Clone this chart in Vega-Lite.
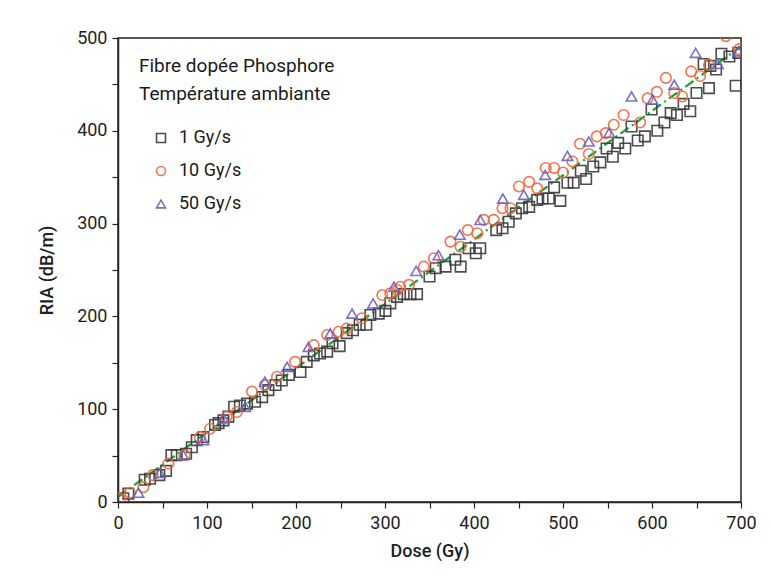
{
  "$schema": "https://vega.github.io/schema/vega-lite/v6.json",
  "width": 623,
  "height": 464,
  "autosize": {"type": "none"},
  "padding": {"left": 118, "top": 38, "right": 30, "bottom": 83},
  "background": "white",
  "config": {
    "font": "Roboto",
    "view": {"stroke": "#222", "strokeWidth": 1.5},
    "axis": {
      "grid": false,
      "domainColor": "#222",
      "domainWidth": 1.5,
      "tickColor": "#222",
      "tickWidth": 1.2,
      "tickSize": 6,
      "labelFont": "Roboto",
      "labelFontSize": 18,
      "labelFontWeight": 400,
      "labelColor": "#1e1e1e",
      "titleFont": "Roboto",
      "titleFontSize": 18,
      "titleFontWeight": 500,
      "titleColor": "#1e1e1e"
    }
  },
  "data": {
    "values": [
      {"dose": 6, "ria": 4, "rate": "1 Gy/s"},
      {"dose": 11.6, "ria": 9, "rate": "1 Gy/s"},
      {"dose": 30, "ria": 24, "rate": "1 Gy/s"},
      {"dose": 36, "ria": 25, "rate": "1 Gy/s"},
      {"dose": 46.5, "ria": 29, "rate": "1 Gy/s"},
      {"dose": 54, "ria": 33.5, "rate": "1 Gy/s"},
      {"dose": 60, "ria": 50.5, "rate": "1 Gy/s"},
      {"dose": 66, "ria": 50.5, "rate": "1 Gy/s"},
      {"dose": 76.5, "ria": 52, "rate": "1 Gy/s"},
      {"dose": 83, "ria": 59, "rate": "1 Gy/s"},
      {"dose": 88.5, "ria": 66.7, "rate": "1 Gy/s"},
      {"dose": 96, "ria": 70, "rate": "1 Gy/s"},
      {"dose": 109, "ria": 83, "rate": "1 Gy/s"},
      {"dose": 113, "ria": 85, "rate": "1 Gy/s"},
      {"dose": 118.5, "ria": 88, "rate": "1 Gy/s"},
      {"dose": 124, "ria": 92, "rate": "1 Gy/s"},
      {"dose": 130.5, "ria": 102.6, "rate": "1 Gy/s"},
      {"dose": 137, "ria": 104, "rate": "1 Gy/s"},
      {"dose": 145, "ria": 106, "rate": "1 Gy/s"},
      {"dose": 154, "ria": 108, "rate": "1 Gy/s"},
      {"dose": 162, "ria": 113, "rate": "1 Gy/s"},
      {"dose": 169, "ria": 120.6, "rate": "1 Gy/s"},
      {"dose": 177, "ria": 126, "rate": "1 Gy/s"},
      {"dose": 184, "ria": 131, "rate": "1 Gy/s"},
      {"dose": 192, "ria": 137, "rate": "1 Gy/s"},
      {"dose": 205, "ria": 140, "rate": "1 Gy/s"},
      {"dose": 212, "ria": 151, "rate": "1 Gy/s"},
      {"dose": 220, "ria": 158, "rate": "1 Gy/s"},
      {"dose": 227, "ria": 160, "rate": "1 Gy/s"},
      {"dose": 235, "ria": 162, "rate": "1 Gy/s"},
      {"dose": 241, "ria": 171, "rate": "1 Gy/s"},
      {"dose": 249, "ria": 168, "rate": "1 Gy/s"},
      {"dose": 257, "ria": 182, "rate": "1 Gy/s"},
      {"dose": 264, "ria": 185, "rate": "1 Gy/s"},
      {"dose": 271.5, "ria": 191, "rate": "1 Gy/s"},
      {"dose": 279, "ria": 191, "rate": "1 Gy/s"},
      {"dose": 283.6, "ria": 201.5, "rate": "1 Gy/s"},
      {"dose": 293, "ria": 203, "rate": "1 Gy/s"},
      {"dose": 300.5, "ria": 206, "rate": "1 Gy/s"},
      {"dose": 306, "ria": 214, "rate": "1 Gy/s"},
      {"dose": 313.6, "ria": 221, "rate": "1 Gy/s"},
      {"dose": 321, "ria": 224, "rate": "1 Gy/s"},
      {"dose": 328.6, "ria": 224, "rate": "1 Gy/s"},
      {"dose": 336, "ria": 224, "rate": "1 Gy/s"},
      {"dose": 350, "ria": 243, "rate": "1 Gy/s"},
      {"dose": 357, "ria": 252, "rate": "1 Gy/s"},
      {"dose": 368, "ria": 253.6, "rate": "1 Gy/s"},
      {"dose": 379, "ria": 261, "rate": "1 Gy/s"},
      {"dose": 385, "ria": 253.6, "rate": "1 Gy/s"},
      {"dose": 394, "ria": 273.5, "rate": "1 Gy/s"},
      {"dose": 402, "ria": 268, "rate": "1 Gy/s"},
      {"dose": 407, "ria": 273.5, "rate": "1 Gy/s"},
      {"dose": 425, "ria": 293, "rate": "1 Gy/s"},
      {"dose": 432, "ria": 295, "rate": "1 Gy/s"},
      {"dose": 439, "ria": 302, "rate": "1 Gy/s"},
      {"dose": 447, "ria": 311, "rate": "1 Gy/s"},
      {"dose": 454, "ria": 316.6, "rate": "1 Gy/s"},
      {"dose": 462, "ria": 318, "rate": "1 Gy/s"},
      {"dose": 471, "ria": 325.6, "rate": "1 Gy/s"},
      {"dose": 477, "ria": 327, "rate": "1 Gy/s"},
      {"dose": 484, "ria": 327, "rate": "1 Gy/s"},
      {"dose": 490, "ria": 339, "rate": "1 Gy/s"},
      {"dose": 497, "ria": 324.5, "rate": "1 Gy/s"},
      {"dose": 505, "ria": 344, "rate": "1 Gy/s"},
      {"dose": 512, "ria": 344, "rate": "1 Gy/s"},
      {"dose": 520, "ria": 357, "rate": "1 Gy/s"},
      {"dose": 526, "ria": 348, "rate": "1 Gy/s"},
      {"dose": 534, "ria": 361.5, "rate": "1 Gy/s"},
      {"dose": 542, "ria": 366, "rate": "1 Gy/s"},
      {"dose": 549, "ria": 381, "rate": "1 Gy/s"},
      {"dose": 556, "ria": 372, "rate": "1 Gy/s"},
      {"dose": 562, "ria": 387, "rate": "1 Gy/s"},
      {"dose": 570, "ria": 381, "rate": "1 Gy/s"},
      {"dose": 577, "ria": 404.6, "rate": "1 Gy/s"},
      {"dose": 584, "ria": 389.5, "rate": "1 Gy/s"},
      {"dose": 592, "ria": 394, "rate": "1 Gy/s"},
      {"dose": 599.5, "ria": 423, "rate": "1 Gy/s"},
      {"dose": 606, "ria": 400, "rate": "1 Gy/s"},
      {"dose": 614, "ria": 409, "rate": "1 Gy/s"},
      {"dose": 621, "ria": 419, "rate": "1 Gy/s"},
      {"dose": 628, "ria": 417, "rate": "1 Gy/s"},
      {"dose": 635.5, "ria": 429, "rate": "1 Gy/s"},
      {"dose": 643, "ria": 421, "rate": "1 Gy/s"},
      {"dose": 650, "ria": 440.7, "rate": "1 Gy/s"},
      {"dose": 658, "ria": 472, "rate": "1 Gy/s"},
      {"dose": 664, "ria": 446, "rate": "1 Gy/s"},
      {"dose": 665.6, "ria": 470, "rate": "1 Gy/s"},
      {"dose": 672, "ria": 466, "rate": "1 Gy/s"},
      {"dose": 678, "ria": 483, "rate": "1 Gy/s"},
      {"dose": 687, "ria": 480, "rate": "1 Gy/s"},
      {"dose": 694, "ria": 448.5, "rate": "1 Gy/s"},
      {"dose": 697, "ria": 484, "rate": "1 Gy/s"},

      {"dose": 2, "ria": 4, "rate": "10 Gy/s"},
      {"dose": 13.5, "ria": 10, "rate": "10 Gy/s"},
      {"dose": 28.5, "ria": 16, "rate": "10 Gy/s"},
      {"dose": 39, "ria": 29, "rate": "10 Gy/s"},
      {"dose": 56.6, "ria": 41.5, "rate": "10 Gy/s"},
      {"dose": 75, "ria": 50.5, "rate": "10 Gy/s"},
      {"dose": 92, "ria": 70, "rate": "10 Gy/s"},
      {"dose": 103.5, "ria": 79, "rate": "10 Gy/s"},
      {"dose": 122, "ria": 92, "rate": "10 Gy/s"},
      {"dose": 133.6, "ria": 97, "rate": "10 Gy/s"},
      {"dose": 150.5, "ria": 119, "rate": "10 Gy/s"},
      {"dose": 165, "ria": 126, "rate": "10 Gy/s"},
      {"dose": 178.6, "ria": 135, "rate": "10 Gy/s"},
      {"dose": 199, "ria": 151, "rate": "10 Gy/s"},
      {"dose": 220, "ria": 169, "rate": "10 Gy/s"},
      {"dose": 235, "ria": 180, "rate": "10 Gy/s"},
      {"dose": 248, "ria": 183.5, "rate": "10 Gy/s"},
      {"dose": 257, "ria": 187, "rate": "10 Gy/s"},
      {"dose": 274, "ria": 198, "rate": "10 Gy/s"},
      {"dose": 297, "ria": 223, "rate": "10 Gy/s"},
      {"dose": 306, "ria": 225, "rate": "10 Gy/s"},
      {"dose": 313.6, "ria": 228.5, "rate": "10 Gy/s"},
      {"dose": 317, "ria": 232, "rate": "10 Gy/s"},
      {"dose": 327, "ria": 234, "rate": "10 Gy/s"},
      {"dose": 343.6, "ria": 253.6, "rate": "10 Gy/s"},
      {"dose": 355, "ria": 262.7, "rate": "10 Gy/s"},
      {"dose": 373.6, "ria": 280.6, "rate": "10 Gy/s"},
      {"dose": 385, "ria": 275, "rate": "10 Gy/s"},
      {"dose": 393, "ria": 293, "rate": "10 Gy/s"},
      {"dose": 403.6, "ria": 289.6, "rate": "10 Gy/s"},
      {"dose": 411, "ria": 304, "rate": "10 Gy/s"},
      {"dose": 422, "ria": 304, "rate": "10 Gy/s"},
      {"dose": 432, "ria": 316.6, "rate": "10 Gy/s"},
      {"dose": 441, "ria": 316.6, "rate": "10 Gy/s"},
      {"dose": 450.5, "ria": 340, "rate": "10 Gy/s"},
      {"dose": 462, "ria": 345, "rate": "10 Gy/s"},
      {"dose": 471, "ria": 338, "rate": "10 Gy/s"},
      {"dose": 480.5, "ria": 360, "rate": "10 Gy/s"},
      {"dose": 490, "ria": 360, "rate": "10 Gy/s"},
      {"dose": 500, "ria": 355, "rate": "10 Gy/s"},
      {"dose": 510.6, "ria": 367, "rate": "10 Gy/s"},
      {"dose": 519, "ria": 386, "rate": "10 Gy/s"},
      {"dose": 529, "ria": 375, "rate": "10 Gy/s"},
      {"dose": 538, "ria": 394, "rate": "10 Gy/s"},
      {"dose": 548, "ria": 397.5, "rate": "10 Gy/s"},
      {"dose": 557, "ria": 406.5, "rate": "10 Gy/s"},
      {"dose": 568, "ria": 417, "rate": "10 Gy/s"},
      {"dose": 586.6, "ria": 409, "rate": "10 Gy/s"},
      {"dose": 595, "ria": 435, "rate": "10 Gy/s"},
      {"dose": 605.5, "ria": 442, "rate": "10 Gy/s"},
      {"dose": 615.6, "ria": 457, "rate": "10 Gy/s"},
      {"dose": 625, "ria": 440.7, "rate": "10 Gy/s"},
      {"dose": 634, "ria": 437, "rate": "10 Gy/s"},
      {"dose": 644, "ria": 464, "rate": "10 Gy/s"},
      {"dose": 654, "ria": 459, "rate": "10 Gy/s"},
      {"dose": 664, "ria": 471, "rate": "10 Gy/s"},
      {"dose": 683, "ria": 502, "rate": "10 Gy/s"},
      {"dose": 698, "ria": 488, "rate": "10 Gy/s"},

      {"dose": 23, "ria": 10, "rate": "50 Gy/s"},
      {"dose": 47, "ria": 31.4, "rate": "50 Gy/s"},
      {"dose": 73.5, "ria": 50.5, "rate": "50 Gy/s"},
      {"dose": 96, "ria": 66.7, "rate": "50 Gy/s"},
      {"dose": 118.5, "ria": 90, "rate": "50 Gy/s"},
      {"dose": 143, "ria": 102.6, "rate": "50 Gy/s"},
      {"dose": 165, "ria": 129.6, "rate": "50 Gy/s"},
      {"dose": 190, "ria": 145.7, "rate": "50 Gy/s"},
      {"dose": 214, "ria": 167, "rate": "50 Gy/s"},
      {"dose": 238.6, "ria": 181.8, "rate": "50 Gy/s"},
      {"dose": 263, "ria": 203, "rate": "50 Gy/s"},
      {"dose": 286.6, "ria": 214, "rate": "50 Gy/s"},
      {"dose": 310, "ria": 232, "rate": "50 Gy/s"},
      {"dose": 335, "ria": 249, "rate": "50 Gy/s"},
      {"dose": 360, "ria": 266, "rate": "50 Gy/s"},
      {"dose": 384, "ria": 288, "rate": "50 Gy/s"},
      {"dose": 407, "ria": 304, "rate": "50 Gy/s"},
      {"dose": 432.5, "ria": 327, "rate": "50 Gy/s"},
      {"dose": 456, "ria": 331, "rate": "50 Gy/s"},
      {"dose": 480, "ria": 352.5, "rate": "50 Gy/s"},
      {"dose": 505, "ria": 373, "rate": "50 Gy/s"},
      {"dose": 529, "ria": 388.5, "rate": "50 Gy/s"},
      {"dose": 552, "ria": 398, "rate": "50 Gy/s"},
      {"dose": 577, "ria": 437, "rate": "50 Gy/s"},
      {"dose": 600.6, "ria": 433.5, "rate": "50 Gy/s"},
      {"dose": 625, "ria": 449.6, "rate": "50 Gy/s"},
      {"dose": 649, "ria": 484, "rate": "50 Gy/s"},
      {"dose": 674, "ria": 472, "rate": "50 Gy/s"},
      {"dose": 697, "ria": 485.6, "rate": "50 Gy/s"}
    ]
  },
  "encoding": {
    "x": {
      "field": "dose", "type": "quantitative",
      "scale": {"domain": [0, 700], "nice": false, "zero": false},
      "axis": {
        "title": "Dose (Gy)",
        "values": [0, 50, 100, 150, 200, 250, 300, 350, 400, 450, 500, 550, 600, 650, 700],
        "labelExpr": "datum.value % 100 === 0 ? datum.label : ''",
        "labelPadding": 6,
        "titlePadding": 10,
        "labelFlush": false
      }
    },
    "y": {
      "field": "ria", "type": "quantitative",
      "scale": {"domain": [0, 500], "nice": false, "zero": false},
      "axis": {
        "title": "RIA (dB/m)",
        "values": [0, 50, 100, 150, 200, 250, 300, 350, 400, 450, 500],
        "labelExpr": "datum.value % 100 === 0 ? datum.label : ''",
        "labelPadding": 5,
        "titlePadding": 20,
        "labelFlush": false
      }
    }
  },
  "layer": [
    {
      "mark": {"type": "line", "color": "#1fa338", "strokeWidth": 2.3, "strokeDash": [10, 4, 2, 4], "clip": true},
      "transform": [{"regression": "ria", "on": "dose", "extent": [0, 700]}],
      "encoding": {}
    },
    {
      "mark": {"type": "point", "filled": false, "strokeWidth": 1.6, "size": 110, "opacity": 0.9, "clip": true},
      "encoding": {
        "shape": {
          "field": "rate", "type": "nominal",
          "scale": {"domain": ["1 Gy/s", "10 Gy/s", "50 Gy/s"], "range": ["square", "circle", "triangle-up"]},
          "legend": null
        },
        "color": {
          "field": "rate", "type": "nominal",
          "scale": {"domain": ["1 Gy/s", "10 Gy/s", "50 Gy/s"], "range": ["#3a3a3a", "#f0683e", "#6b61c2"]},
          "legend": {
            "title": ["Fibre dopée Phosphore", "Température ambiante"],
            "orient": "none",
            "legendX": 21,
            "legendY": 19,
            "titleFont": "Roboto",
            "titleFontSize": 19,
            "titleFontWeight": 400,
            "titleColor": "#1a1a1a",
            "titleLimit": 400,
            "titleLineHeight": 28,
            "titlePadding": 25,
            "labelFont": "Roboto",
            "labelFontSize": 18,
            "labelFontWeight": 400,
            "labelColor": "#1a1a1a",
            "labelOffset": 9,
            "symbolOffset": 13,
            "symbolSize": 80,
            "symbolStrokeWidth": 1.6,
            "rowPadding": 15
          }
        }
      }
    }
  ]
}
